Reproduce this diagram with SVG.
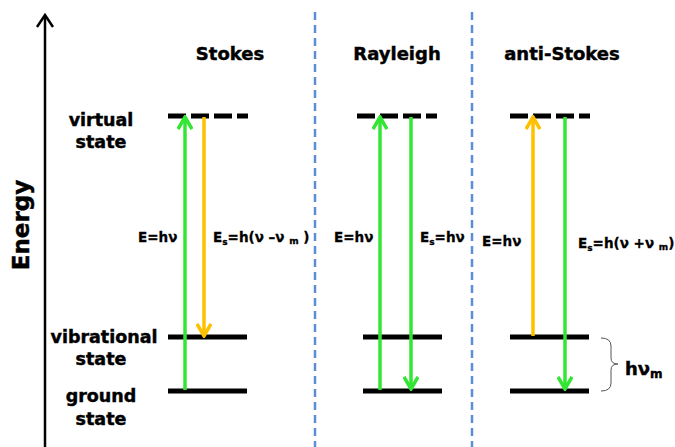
<svg xmlns="http://www.w3.org/2000/svg" width="675" height="447" viewBox="0 0 675 447">
  <style>
    text { font-family: "DejaVu Sans", "Liberation Sans", sans-serif; font-weight: bold; fill: #000; stroke: #000; stroke-width: 0.45; }
    .title { font-size: 18px; text-anchor: middle; }
    .state { font-size: 17.5px; text-anchor: middle; }
    .eq { font-size: 13.5px; stroke-width: 0.3; }
    .sub { font-size: 9px; }
    .level { stroke: #000; stroke-width: 5; fill: none; }
    .virtual { stroke: #000; stroke-width: 5; stroke-dasharray: 18 5; fill: none; }
    .divider { stroke: #5B8ED6; stroke-width: 2.5; stroke-dasharray: 8 5; fill: none; }
    .green { stroke: #33E633; stroke-width: 3.5; fill: none; }
    .orange { stroke: #FFC000; stroke-width: 3.5; fill: none; }
  </style>
  <defs>
    <marker id="headGreen" viewBox="0 0 16 16" refX="14" refY="8" markerWidth="16" markerHeight="16" markerUnits="userSpaceOnUse" orient="auto">
      <path d="M2,1 L14,8 L2,15" stroke="#33E633" stroke-width="3.5" fill="none"/>
    </marker>
    <marker id="headOrange" viewBox="0 0 16 16" refX="14" refY="8" markerWidth="16" markerHeight="16" markerUnits="userSpaceOnUse" orient="auto">
      <path d="M2,1 L14,8 L2,15" stroke="#FFC000" stroke-width="3.5" fill="none"/>
    </marker>
  </defs>

  <rect width="675" height="447" fill="#fff"/>

  <!-- energy axis -->
  <g id="axis">
    <line x1="45" y1="447" x2="45" y2="16" stroke="#000" stroke-width="2.5"/>
    <path d="M37,27 L45,15 L53,27" stroke="#000" stroke-width="2.5" fill="none"/>
    <text transform="translate(29,225) rotate(-90)" text-anchor="middle" font-size="23" stroke-width="0.7">Energy</text>
  </g>

  <!-- column dividers -->
  <g id="dividers">
    <line class="divider" x1="315" y1="12" x2="315" y2="447"/>
    <line class="divider" x1="472" y1="12" x2="472" y2="447"/>
  </g>

  <!-- state labels -->
  <g id="labels">
    <text class="state" x="101" y="126">virtual</text>
    <text class="state" x="101" y="148">state</text>
    <text class="state" x="104" y="343">vibrational</text>
    <text class="state" x="101" y="365">state</text>
    <text class="state" x="101" y="402">ground</text>
    <text class="state" x="101" y="425">state</text>
  </g>

  <!-- Stokes -->
  <g id="stokes">
    <text class="title" x="230" y="60">Stokes</text>
    <line class="virtual" x1="168" y1="116" x2="248" y2="116"/>
    <line class="level" x1="168" y1="337" x2="247" y2="337"/>
    <line class="level" x1="168" y1="391" x2="247" y2="391"/>
    <text class="eq" x="138" y="242">E=hν</text>
    <text class="eq" x="213" y="242">E<tspan class="sub" dy="3">s</tspan><tspan dy="-3">=h(ν –ν </tspan><tspan class="sub" dy="2">m</tspan><tspan dy="-2"> )</tspan></text>
  </g>

  <!-- Rayleigh -->
  <g id="rayleigh">
    <text class="title" x="397" y="60">Rayleigh</text>
    <line class="virtual" x1="357" y1="116" x2="437" y2="116"/>
    <line class="level" x1="363" y1="337" x2="442" y2="337"/>
    <line class="level" x1="363" y1="391" x2="442" y2="391"/>
    <text class="eq" x="334" y="242">E=hν</text>
    <text class="eq" x="420" y="242">E<tspan class="sub" dy="3">s</tspan><tspan dy="-3">=hν</tspan></text>
  </g>

  <!-- anti-Stokes -->
  <g id="anti-stokes">
    <text class="title" x="562" y="60">anti-Stokes</text>
    <line class="virtual" x1="510" y1="116" x2="590" y2="116"/>
    <line class="level" x1="510" y1="337" x2="589" y2="337"/>
    <line class="level" x1="510" y1="391" x2="589" y2="391"/>
    <text class="eq" x="482" y="246">E=hν</text>
    <text class="eq" x="578" y="248">E<tspan class="sub" dy="3">s</tspan><tspan dy="-3">=h(ν +ν </tspan><tspan class="sub" dy="2">m</tspan><tspan dy="-2">)</tspan></text>
  </g>

  <!-- vibrational energy gap -->
  <g id="gap">
    <path d="M601,338 Q611,338 611,346 L611,358 Q611,364 618,364 Q611,364 611,370 L611,383 Q611,391 601,391" stroke="#555" stroke-width="1" fill="none"/>
    <text x="625" y="375" font-size="18">hν<tspan font-size="12" dy="3">m</tspan></text>
  </g>

  <!-- transitions -->
  <g id="connectors">
    <line class="green" x1="185" y1="390" x2="185" y2="117" marker-end="url(#headGreen)"/>
    <line class="orange" x1="204" y1="117" x2="204" y2="336" marker-end="url(#headOrange)"/>
    <line class="green" x1="380" y1="390" x2="380" y2="117" marker-end="url(#headGreen)"/>
    <line class="green" x1="411" y1="117" x2="411" y2="389" marker-end="url(#headGreen)"/>
    <line class="orange" x1="533" y1="336" x2="533" y2="117" marker-end="url(#headOrange)"/>
    <line class="green" x1="565" y1="117" x2="565" y2="389" marker-end="url(#headGreen)"/>
  </g>
</svg>
